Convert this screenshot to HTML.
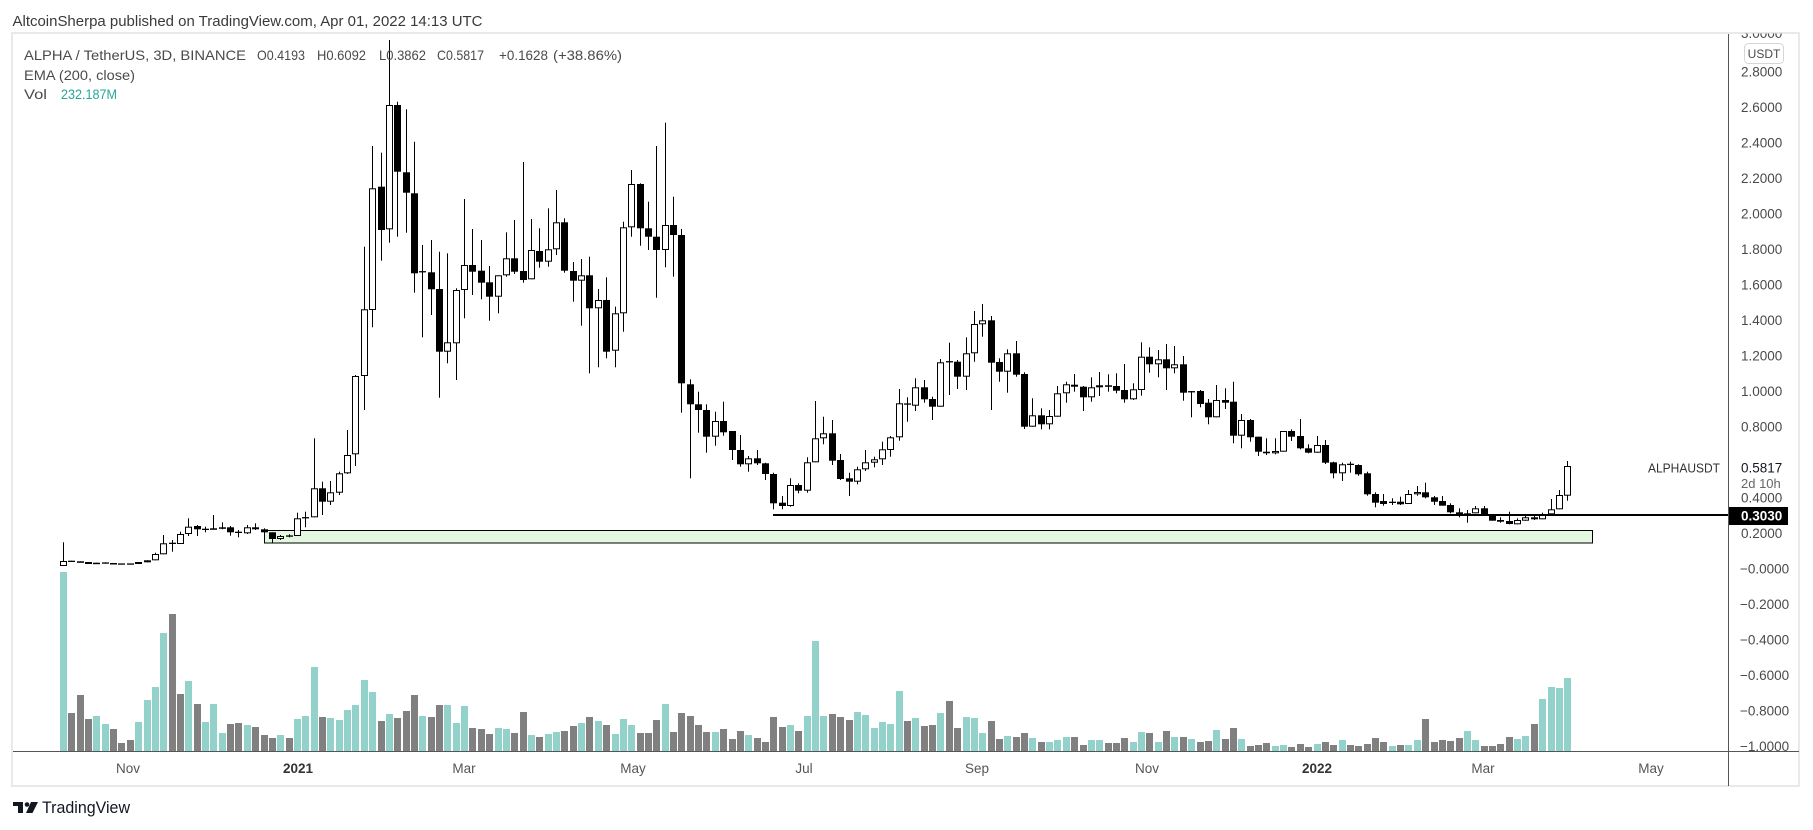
<!DOCTYPE html>
<html><head><meta charset="utf-8"><style>
html,body{margin:0;padding:0;background:#fff;width:1813px;height:830px;overflow:hidden}
svg{display:block}
text{font-family:"Liberation Sans",Arial,sans-serif}
</style></head><body>
<svg id="s" xmlns="http://www.w3.org/2000/svg" width="1813" height="830" viewBox="0 0 1813 830">
<defs>
<clipPath id="pane"><rect x="13" y="34" width="1715" height="717"/></clipPath>
<clipPath id="axisclip"><rect x="1729" y="33.5" width="70" height="717.5"/></clipPath>
</defs>
<rect x="0" y="0" width="1813" height="830" fill="#fff"/>
<text x="12.5" y="26" font-size="15" fill="#3a3a3a" textLength="470" lengthAdjust="spacingAndGlyphs">AltcoinSherpa published on TradingView.com, Apr 01, 2022 14:13 UTC</text>
<rect x="12" y="33" width="1787" height="753" fill="none" stroke="#e9e9e9" stroke-width="2"/>

<g clip-path="url(#pane)">
  <rect x="264.5" y="530.5" width="1328" height="12.5" fill="#e4f7e0" stroke="#000" stroke-width="1"/>
  <g id="v"></g>
  <g id="c"></g>
  <rect x="773" y="514" width="955" height="2" fill="#000"/>
</g>

<!-- legend -->
<g font-size="14" fill="#4a4a4a">
<text x="24" y="60" textLength="222" lengthAdjust="spacingAndGlyphs">ALPHA / TetherUS, 3D, BINANCE</text>
<text x="257" y="60" textLength="48" lengthAdjust="spacingAndGlyphs">O0.4193</text>
<text x="317" y="60" textLength="49" lengthAdjust="spacingAndGlyphs">H0.6092</text>
<text x="379" y="60" textLength="47" lengthAdjust="spacingAndGlyphs">L0.3862</text>
<text x="437" y="60" textLength="47" lengthAdjust="spacingAndGlyphs">C0.5817</text>
<text x="499" y="60" textLength="49" lengthAdjust="spacingAndGlyphs">+0.1628</text>
<text x="553" y="60" textLength="69" lengthAdjust="spacingAndGlyphs">(+38.86%)</text>
</g>
<text x="24" y="80" font-size="13.5" fill="#4a4a4a" textLength="111" lengthAdjust="spacingAndGlyphs">EMA (200, close)</text>
<text x="24" y="99" font-size="13.5" fill="#4a4a4a" textLength="23" lengthAdjust="spacingAndGlyphs">Vol</text>
<text x="61" y="99" font-size="13.5" fill="#26a69a" textLength="56" lengthAdjust="spacingAndGlyphs">232.187M</text>

<!-- price axis -->
<g clip-path="url(#axisclip)" font-size="13.5" fill="#4a4a4a">
<text x="1741" y="38">3.0000</text>
<text x="1741" y="76.5">2.8000</text>
<text x="1741" y="112">2.6000</text>
<text x="1741" y="147.5">2.4000</text>
<text x="1741" y="183">2.2000</text>
<text x="1741" y="218.5">2.0000</text>
<text x="1741" y="254">1.8000</text>
<text x="1741" y="289.5">1.6000</text>
<text x="1741" y="325">1.4000</text>
<text x="1741" y="360.5">1.2000</text>
<text x="1741" y="396">1.0000</text>
<text x="1741" y="431.5">0.8000</text>
<text x="1741" y="502.5">0.4000</text>
<text x="1741" y="538">0.2000</text>
<text x="1740" y="573.5">−0.0000</text>
<text x="1740" y="609">−0.2000</text>
<text x="1740" y="644.5">−0.4000</text>
<text x="1740" y="680">−0.6000</text>
<text x="1740" y="715.5">−0.8000</text>
<text x="1740" y="751">−1.0000</text>
</g>
<rect x="1744.5" y="43.5" width="39" height="20" rx="4" fill="#fff" stroke="#d6d6d6"/>
<text x="1764" y="58" font-size="12" fill="#4a4a4a" text-anchor="middle">USDT</text>

<rect x="1640" y="457" width="94" height="35" fill="#fff"/>
<text x="1648" y="472.5" font-size="13" fill="#333" textLength="72" lengthAdjust="spacingAndGlyphs">ALPHAUSDT</text>
<text x="1741" y="472.5" font-size="13.5" fill="#131722">0.5817</text>
<text x="1741" y="488" font-size="13" fill="#666">2d 10h</text>

<rect x="1728" y="507" width="60" height="18" fill="#000"/>
<text x="1741" y="520.5" font-size="13.5" font-weight="bold" fill="#fff">0.3030</text>

<line x1="1728.5" y1="34" x2="1728.5" y2="786" stroke="#555" stroke-width="1"/>
<line x1="13" y1="751.5" x2="1799" y2="751.5" stroke="#555" stroke-width="1"/>

<!-- time axis -->
<g font-size="13.5" fill="#555" text-anchor="middle">
<text x="128" y="773">Nov</text>
<text x="298" y="773" font-weight="bold" fill="#333">2021</text>
<text x="464" y="773">Mar</text>
<text x="633" y="773">May</text>
<text x="804" y="773">Jul</text>
<text x="977" y="773">Sep</text>
<text x="1147" y="773">Nov</text>
<text x="1317" y="773" font-weight="bold" fill="#333">2022</text>
<text x="1483" y="773">Mar</text>
<text x="1651" y="773">May</text>
</g>

<!-- logo -->
<g fill="#131722">
<rect x="13" y="802" width="10" height="4"/>
<rect x="18" y="802" width="5" height="11"/>
<circle cx="27" cy="804.5" r="2.3"/>
<polygon points="31,802 38,802 32.5,813 26,813"/>
</g>
<text x="42" y="813" font-size="17" fill="#131722" textLength="88" lengthAdjust="spacingAndGlyphs">TradingView</text>
</svg>
<script>
(function(){
var NS="http://www.w3.org/2000/svg";
function el(n,a,p){var e=document.createElementNS(NS,n);for(var k in a)e.setAttribute(k,a[k]);p.appendChild(e);return e;}
function X(i){return Math.round(63+i*8.357);}
var C="U 542.3 561 566 566|X 560.7 561.3 561.3 562|D 561.3 561.3 562.3 562.3|D 562 562 564 564|D 562.7 562.7 564 564|X 562.3 563 563 563.7|D 563 563 564 564|X 564 564 564 564|X 564 564 564 564|U 562 562 564 564|U 560.3 560.3 562.3 562.3|U 552.7 554 560.3 560.3|U 535 543.3 554.3 554.3|X 540 543.3 543.3 551.7|U 531.7 534 544 544|U 518.3 526.7 534 536|D 525 526 529.3 536|X 526.7 529.3 529.3 532.3|D 515 528.3 529.3 529.3|D 522.3 527.3 528.3 529.3|D 526 527.3 532.3 535.7|X 530 532.3 532.3 537.3|U 525 527.3 533.3 534|D 523.3 527.3 529.3 530|D 528.3 529.3 532.3 532.3|D 532.3 532.3 539 543.3|U 535 536 539 540|X 534.3 536 536 537.3|U 512.7 518.3 536 536|X 511.7 517.7 517.7 527.3|U 438.3 488.3 517.3 517.3|D 481.7 488.3 501.7 515|U 481 492.3 501.7 505|U 471.7 473.3 492.7 495|U 430 455 473.3 474|U 375 376 454.3 466|U 246.7 309.3 376 410|U 146 188.3 310 327.3|D 152.7 186.7 230 260.7|U 40 105 229.3 242.7|D 101.7 105 171.7 236.7|D 109.3 172.3 192.7 232.7|D 141.7 193.3 273.3 292.7|X 245 271.7 271.7 337.3|D 240 272.3 289.3 315|D 251.7 289 351.7 397.7|U 253.3 342.3 351.7 363.3|U 288.3 290 343.3 380|U 199 265 290 318.3|D 229 265 271.7 295|D 240 270.7 282.7 299.3|D 266 282.3 296.7 320.7|U 275.3 275.3 296.7 313.3|U 232.3 258.3 275.3 276.7|D 220 258.3 271.7 274|D 162 271 280 282.7|U 219 250 279.3 279.3|D 228.3 251 261.7 267.7|U 208.3 249.3 261.7 266.7|U 190 222.3 249.3 255|D 218.3 222.3 270.7 272.7|D 262 271 280.7 301.7|U 259 275.3 280.7 325.7|D 256.7 275.3 308.3 373.3|U 289 300 308.3 367.3|D 277.3 300 351.7 358.3|U 306.7 313.3 350.7 367.3|U 221.7 227.3 313.3 331.7|U 170 184 227.3 236.7|D 183.3 184 228.3 245.7|D 201.7 228.3 236.7 250|D 146 236.7 250 297.7|U 122.7 225 250 267.3|D 196.7 225 235 276.7|D 229 235 383.3 412.7|D 379.3 384.3 404.3 478.3|D 391.7 404.3 410 432.7|D 404.3 410 436.7 452.7|U 411.7 421 436.7 445.7|D 401.7 421 432.3 435.7|D 431 431 450 460|D 435 450 464.3 466.7|U 456 458.3 464.3 471.7|D 450 458.3 463.3 465|D 462.7 463.3 474 480|D 472.7 474 503.3 509.3|D 496 502.7 506 509.3|U 478.3 485 506 506.7|D 483.3 485 490.7 493.3|U 457.3 462.3 490.7 492.7|U 401 438.3 462.3 462.3|U 416.7 433.3 438.3 444.3|D 420 433.3 460.7 465|D 454 460 479 480|D 472.7 478.3 481.7 496|U 466.7 469.3 481.7 484.3|U 450 462.3 469.3 471|U 456.7 459.3 462.7 467.3|U 441.7 449.3 459.3 465|U 436 437.3 450 456.7|U 389 403.3 437.3 440.7|X 397.3 404 404 421.7|U 378.3 387.3 405.7 411|D 380 387.3 399.3 402.7|D 396.7 399 406.7 420|U 359 362.3 406.7 406.7|X 342.7 361.7 361.7 395|D 360 361.7 376.7 389|U 337.3 353.3 376.7 390|U 311 324 353.3 361.7|U 304 320.3 324.3 336.7|D 316 320.3 362.7 410|D 358.3 362 371.7 381.7|U 349.3 353.3 371.7 392.7|D 341 353.3 374.7 376.7|D 372.3 374 426.7 429|U 398.3 415.3 426.7 426.7|D 408.3 415.3 424.3 429.3|U 410 416 424.3 429.3|U 386 393.3 416.7 416.7|U 381.7 384.3 393.3 402.7|D 374 384.7 386.7 391.7|D 386 386.7 397.3 411|U 377.3 387.3 397.3 401.7|U 372 385.3 387.3 396|D 374.3 385.3 386.7 391.7|D 373.3 386 390.7 393.3|D 364 390 399.3 402.7|U 383.3 389.3 399.3 400|U 342.3 356.7 390 395.7|D 347.3 356.7 364.3 372.7|U 350 359.3 364.3 377.3|D 344 359.3 368.3 390|U 346 364.3 368.3 373.3|D 356 364.3 392.7 400.7|X 391 391.7 391.7 417.3|D 390 391 404 407.3|D 399 402.7 417.3 424.3|U 385 400 417.3 417.3|D 388.3 400 402.7 409|D 381.7 401.7 435.7 443.3|U 414 420 435.7 448.3|D 419 420 437.3 441.7|D 436.7 436.7 451.7 456|D 438.3 451.7 453.3 455|U 438.3 451 453.3 454.3|U 431 431 451.7 451.7|D 429.3 431 436.7 441|D 419 436 448.3 449.3|D 444.3 448.3 452.7 453.3|U 436 445 452.7 452.7|D 440 445 462.7 464|D 461.7 462.3 473.3 478.3|U 462.7 464.3 473.3 481|X 461.7 464.3 464.3 472.7|D 464.3 465 474.3 475.7|D 471.7 473.3 494.3 495.7|D 492.3 494 502.7 507.3|D 494 501 504 505.7|X 498.3 502.3 502.3 505|D 496.7 501.7 504.3 505|U 490 494 504 504|U 486 492 494.3 495.7|D 482.7 492.3 497.3 498.3|D 496 497.3 501.7 505|D 496 501 505.7 505.7|D 503.3 505 512.3 513.3|D 508.3 512.3 515 517.3|U 510 513.3 515 522.7|U 506 508.3 513.3 513.3|D 506 508.3 515 515|D 514 515 520.7 520.7|D 517.3 520 521.7 522.7|D 511.7 521 524 524.3|U 518.3 520 524.3 524.3|U 516 517.3 520.7 520.7|D 516 517.3 519.3 520|U 512.7 514.3 519.3 519.3|U 499 509.3 514.3 514.3|U 490 495 509.3 509.3|U 461 466 495.7 500.7";
var V=[36,459,405,477,468,492,507,549,540,486,420,381,219,162,402,363,432,486,432,519,492,489,495,501,525,534,525,534,477,468,321,471,474,480,450,435,360,396,483,462,474,453,405,468,471,435,435,489,438,504,507,522,504,507,519,456,525,531,522,516,513,498,489,471,483,495,522,477,495,519,519,480,432,516,459,468,495,516,516,507,537,513,525,534,546,471,501,495,513,468,243,468,462,471,480,456,465,504,486,492,393,483,474,498,495,459,423,504,471,474,519,483,537,528,531,519,534,546,546,540,531,531,555,540,540,549,549,534,546,516,519,546,513,531,531,537,546,543,510,537,504,537,558,555,549,558,555,561,552,561,552,546,555,540,555,558,552,534,546,558,555,555,540,477,546,540,543,534,513,540,558,558,552,531,537,528,492,417,381,384,354];
var VC="TGGGTTGGGTTTTGGTGTTTGGTGGGTGTTTGTTTTTTGTGGGTGGTTTGGGTTGGTGTTGGTGTGTTTGGGTGGGGGTGGGTGGGGTGTTTGGGTTTTTTGTGGTGGTTTGGTGGTGTTTGGTTGGGTTGTGTGTGGTGGTGGGTTGGGTGGTGGGGGTGTTGGGGGTTGGGGTTGTTTT";
var vg=document.getElementById('v'), cg=document.getElementById('c');
for(var i=0;i<V.length;i++){
  var top=560+V[i]/3, cx=X(i);
  el('rect',{x:cx-3,y:top.toFixed(2),width:7,height:(751-top).toFixed(2),fill:(VC[i]==='T'?'#92d2cb':'#808080')},vg);
}
var rows=C.split('|');
for(var j=0;j<rows.length;j++){
  var p=rows[j].split(' '), t=p[0], wt=+p[1], bt=+p[2], bb=+p[3], wb=+p[4], cx=X(j);
  if(wb-wt>0.5) el('rect',{x:cx,y:wt,width:1,height:(wb-wt).toFixed(2),fill:'#000'},cg);
  if(t==='U'){
    var h=Math.max(bb-bt-1,1);
    el('rect',{x:cx-2.5,y:(bt+0.5).toFixed(2),width:6,height:h.toFixed(2),fill:'#fff',stroke:'#000','stroke-width':1},cg);
  } else if(t==='D'){
    el('rect',{x:cx-3,y:bt,width:7,height:Math.max(bb-bt,1.5).toFixed(2),fill:'#000'},cg);
  } else {
    el('rect',{x:cx-3,y:(bt-0.6).toFixed(2),width:7,height:1.3,fill:'#000'},cg);
  }
}
})();
</script>
</body></html>
